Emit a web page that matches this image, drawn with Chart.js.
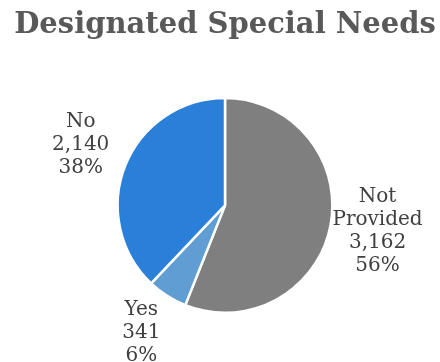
<!DOCTYPE html>
<html>
<head>
<meta charset="utf-8">
<script src="https://cdn.jsdelivr.net/npm/chart.js@4.4.1/dist/chart.umd.min.js"></script>
<style>
  html, body { margin: 0; padding: 0; background: #fff; }
  #wrap { width: 440px; height: 362px; }
</style>
</head>
<body>
<div id="wrap"><canvas id="needsChart" width="440" height="362"></canvas></div>
<script>
  // Designated special needs breakdown
  const categories = ['Not Provided', 'Yes', 'No'];
  const counts = [3162, 341, 2140];
  const sliceColors = ['#7f7f7f', '#5f9dd3', '#2a7fd8'];

  const FONT = "'DejaVu Serif', Georgia, serif";

  // Draws "Name / count / pct" outside each slice, along its middle angle
  const outsideLabels = {
    id: 'outsideLabels',
    afterDatasetsDraw(chart) {
      const ctx = chart.ctx;
      const meta = chart.getDatasetMeta(0);
      const total = counts.reduce((a, b) => a + b, 0);
      ctx.save();
      ctx.font = '20px ' + FONT;
      ctx.fillStyle = '#404040';
      ctx.textAlign = 'center';
      ctx.textBaseline = 'middle';
      meta.data.forEach((arc, i) => {
        const p = arc.getProps(['x', 'y', 'startAngle', 'endAngle', 'outerRadius'], true);
        const mid = (p.startAngle + p.endAngle) / 2;
        const r = p.outerRadius + 48;
        const cx = p.x + Math.cos(mid) * r;
        const cy = p.y + Math.sin(mid) * r - 3;
        const lines = categories[i].split(' ')
          .concat([counts[i].toLocaleString('en-US'), Math.round(counts[i] / total * 100) + '%']);
        const lh = 23;
        const top = cy - (lines.length - 1) * lh / 2;
        lines.forEach((t, j) => ctx.fillText(t, cx, top + j * lh));
      });
      ctx.restore();
    }
  };

  function createNeedsChart() {
    const ctx = document.getElementById('needsChart').getContext('2d');
    new Chart(ctx, {
      type: 'pie',
      data: {
        labels: categories,
        datasets: [{
          data: counts,
          backgroundColor: sliceColors,
          borderColor: '#ffffff',
          borderWidth: 2.5
        }]
      },
      options: {
        responsive: false,
        animation: false,
        layout: { padding: { left: 10, right: 0, top: 0, bottom: 48 } },
        plugins: {
          legend: { display: false },
          tooltip: { enabled: false },
          title: {
            display: true,
            text: 'Designated Special Needs',
            color: '#595959',
            font: { family: FONT, size: 29, weight: 'bold', lineHeight: 1.2 },
            padding: { top: 8, bottom: 54 }
          }
        }
      },
      plugins: [outsideLabels]
    });
  }

  document.addEventListener('DOMContentLoaded', () => {
    createNeedsChart();
  });
</script>
</body>
</html>
